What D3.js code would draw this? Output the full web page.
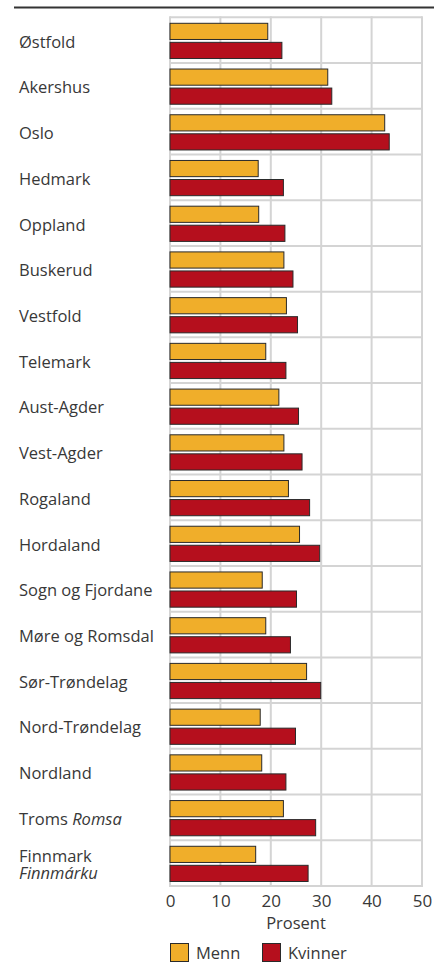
<!DOCTYPE html>
<html>
<head>
<meta charset="utf-8">
<script src="https://cdn.jsdelivr.net/npm/d3@7"></script>
<style>
  body { margin: 0; background: #fff; }
  text { font-family: "Open Sans", "Noto Sans", sans-serif; fill: #383838; }
</style>
</head>
<body>
<div id="chart"></div>
<script>
// Data
var counties = ["Østfold", "Akershus", "Oslo", "Hedmark", "Oppland", "Buskerud", "Vestfold",
    "Telemark", "Aust-Agder", "Vest-Agder", "Rogaland", "Hordaland", "Sogn og Fjordane",
    "Møre og Romsdal", "Sør-Trøndelag", "Nord-Trøndelag", "Nordland", "Troms", "Finnmark"];
// Sami names shown in italics
var samiNames = { "Troms": "Romsa", "Finnmark": "Finnmárku" };
var menn = [19.4, 31.3, 42.6, 17.5, 17.6, 22.6, 23.1, 19.0, 21.6, 22.6, 23.5, 25.7, 18.3, 19.0, 27.1, 17.9, 18.2, 22.5, 17.0];
var kvinner = [22.2, 32.1, 43.5, 22.5, 22.8, 24.4, 25.3, 23.0, 25.5, 26.2, 27.7, 29.7, 25.1, 23.9, 29.9, 24.9, 23.0, 28.9, 27.4];
var seriesNames = ["Menn", "Kvinner"];
var seriesColors = ["#f0ae2a", "#b50f1d"];
var xTicks = [0, 10, 20, 30, 40, 50];
var xTitle = "Prosent";

var svgWidth = 434;
var svgHeight = 963;

var margin = { top: 17.3, left: 170, right: 12, bottom: 77 };
var width = svgWidth - margin.left - margin.right;
var height = svgHeight - margin.top - margin.bottom;

var svg = d3.select("#chart")
    .append("svg")
    .attr("width", svgWidth)
    .attr("height", svgHeight);

// Rule at the top
svg.append("line")
    .attr("x1", 14).attr("x2", svgWidth)
    .attr("y1", 7.5).attr("y2", 7.5)
    .attr("stroke", "#333")
    .attr("stroke-width", 2);

var chartGroup = svg.append("g")
    .attr("transform", `translate(${margin.left}, ${margin.top})`);

var x = d3.scaleLinear().domain([0, 50]).range([0, width]);
var y = d3.scaleBand().domain(counties).range([0, height]).padding(0);
var ySub = d3.scaleBand().domain(seriesNames)
    .range([6, y.bandwidth() - 4.5])
    .paddingInner(0.15);

// Grid
var grid = chartGroup.append("g");
grid.selectAll(".vgrid")
    .data(xTicks)
    .enter()
    .append("line")
    .attr("x1", d => x(d)).attr("x2", d => x(d))
    .attr("y1", -1).attr("y2", height + 1)
    .attr("stroke", "#d4d4d4")
    .attr("stroke-width", 2);
var boundaries = counties.map(c => y(c)).concat([height]);
grid.selectAll(".hgrid")
    .data(boundaries)
    .enter()
    .append("line")
    .attr("x1", 0).attr("x2", width)
    .attr("y1", d => d).attr("y2", d => d)
    .attr("stroke", "#d4d4d4")
    .attr("stroke-width", 2);

// Bars
var rows = counties.map((c, i) => ({ county: c, values: [menn[i], kvinner[i]] }));
var rowGroups = chartGroup.selectAll(".row")
    .data(rows)
    .enter()
    .append("g")
    .attr("transform", d => `translate(0, ${y(d.county)})`);

rowGroups.selectAll("rect")
    .data(d => d.values.map((v, j) => ({ key: seriesNames[j], value: v, color: seriesColors[j] })))
    .enter()
    .append("rect")
    .attr("x", x(0))
    .attr("y", d => ySub(d.key))
    .attr("width", d => x(d.value) - x(0))
    .attr("height", ySub.bandwidth())
    .attr("fill", d => d.color)
    .attr("stroke", "#2a2a2a")
    .attr("stroke-width", 1);

// County labels
var labelSize = 16.5;
var labels = svg.append("g")
    .attr("transform", `translate(19, ${margin.top})`);
counties.forEach(function(c) {
    var cy = y(c) + y.bandwidth() / 2;
    var t = labels.append("text")
        .attr("x", 0)
        .attr("font-size", labelSize);
    if (c === "Finnmark") {
        // two lines in one text element
        t.attr("y", cy - 1);
        t.append("tspan").text(c);
        t.append("tspan")
            .attr("x", 0)
            .attr("dy", 17)
            .attr("font-style", "italic")
            .text(samiNames[c]);
    } else if (samiNames[c]) {
        t.attr("y", cy + 7.5);
        t.append("tspan").text(c + " ");
        t.append("tspan").attr("font-style", "italic").text(samiNames[c]);
    } else {
        t.attr("y", cy + 7.5).text(c);
    }
});

// X axis
var bottomAxis = d3.axisBottom(x).tickValues(xTicks).tickSize(0).tickPadding(9);
var xAxis = chartGroup.append("g")
    .attr("transform", `translate(0, ${height})`)
    .call(bottomAxis);
xAxis.select(".domain").remove();
xAxis.selectAll("text")
    .attr("font-size", 17)
    .attr("fill", "#383838")
    .style("font-family", "'Open Sans', sans-serif");

chartGroup.append("text")
    .attr("x", x(25))
    .attr("y", height + 43)
    .attr("text-anchor", "middle")
    .attr("font-size", 16.5)
    .text(xTitle);

// Legend
var legend = svg.append("g")
    .attr("transform", `translate(${margin.left}, 943)`);
var legendX = [0, 92];
seriesNames.forEach(function(name, i) {
    legend.append("rect")
        .attr("x", legendX[i] + 0.5)
        .attr("y", 0.5)
        .attr("width", 18)
        .attr("height", 18)
        .attr("fill", seriesColors[i])
        .attr("stroke", "#2a2a2a")
        .attr("stroke-width", 1);
    legend.append("text")
        .attr("x", legendX[i] + 26)
        .attr("y", 16)
        .attr("font-size", 16.5)
        .text(name);
});
</script>
</body>
</html>
